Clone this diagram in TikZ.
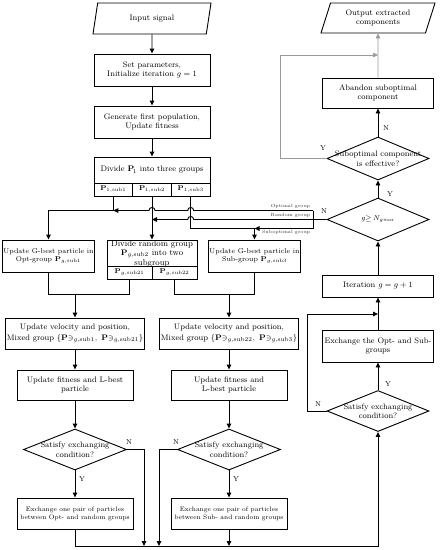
\documentclass[tikz,border=0pt]{standalone}
\usepackage{amsmath,amssymb}
\usetikzlibrary{positioning,arrows.meta,shapes.geometric,calc}

\begin{document}
\begin{tikzpicture}[x=1pt,y=-1pt,
  fbox/.style={rectangle,draw,line width=0.9pt,font=\footnotesize,align=center,
    inner sep=1pt,minimum width=116,minimum height=32},
  fpar/.style={trapezium,trapezium left angle=63,trapezium right angle=117,
    trapezium stretches body,draw,line width=0.9pt,font=\footnotesize,align=center,
    inner sep=1pt,minimum width=118,minimum height=31},
  fdia/.style={diamond,draw,line width=0.9pt,inner sep=0pt,minimum width=103,minimum height=41},
  ftxt/.style={font=\footnotesize,align=center,inner sep=0pt},
  fcell/.style={rectangle,draw,line width=0.9pt,inner sep=0pt,minimum height=13,font=\scriptsize},
  farr/.style={-{Triangle[length=5pt,width=4.5pt]},line width=0.9pt},
  fline/.style={line width=0.9pt},
  gline/.style={draw=gray!80,line width=0.6pt},
  flab/.style={font=\scriptsize,inner sep=0pt},
  glab/.style={font=\fontsize{4.5}{5}\selectfont,inner sep=0.5pt,text=black!80}
]
\useasboundingbox (0,0) rectangle (442,550);

% left column
\node[fpar] (in) at (152,18.5) {Input signal};
\node[fbox] (set) at (152,70) {Set parameters,\\Initialize iteration $g=1$};
\node[fbox] (gen) at (152,122) {Generate first population,\\Update fitness};
\node[fbox,minimum height=26] (div) at (152,170) {Divide $\mathbf{P}_{\!1}$ into three groups};
\node[fcell,minimum width=38.7] (c1) at (113.3,189.5) {$\mathbf{P}_{1,\mathrm{sub1}}$};
\node[fcell,minimum width=38.7] (c2) at (152,189.5) {$\mathbf{P}_{1,\mathrm{sub2}}$};
\node[fcell,minimum width=38.7] (c3) at (190.7,189.5) {$\mathbf{P}_{1,\mathrm{sub3}}$};

% second row
\node[fbox,font=\fontsize{7}{8.5}\selectfont,minimum width=91] (opt) at (48.5,256)
  {Update G-best particle in\\Opt-group $\mathbf{P}_{g,\mathrm{sub1}}$};
\node[fbox,minimum width=90,minimum height=26] (rnd) at (152,253) {};
\node[ftxt,font=\fontsize{8.5}{9.5}\selectfont] (rndt) at (152,253.5)
  {Divide random group\\$\mathbf{P}_{g,\mathrm{sub2}}$ into two\\subgroup};
\node[fcell,minimum width=45] (r1) at (129.5,272.5) {$\mathbf{P}_{g,\mathrm{sub21}}$};
\node[fcell,minimum width=45] (r2) at (174.5,272.5) {$\mathbf{P}_{g,\mathrm{sub22}}$};
\node[fbox,font=\fontsize{7}{8.5}\selectfont,minimum width=89] (sub) at (254.5,256)
  {Update G-best particle in\\Sub-group $\mathbf{P}_{g,\mathrm{sub3}}$};

% lower rows
\node[fbox,minimum height=31] (mixL) at (75,333.5)
  {Update velocity and position,\\[1pt]Mixed group $\{\mathbf{P}\mathord{\ni}_{g,\mathrm{sub1}},\ \mathbf{P}\mathord{\ni}_{g,\mathrm{sub21}}\}$};
\node[fbox,minimum height=31] (mixR) at (229,333.5)
  {Update velocity and position,\\[1pt]Mixed group $\{\mathbf{P}\mathord{\ni}_{g,\mathrm{sub22}},\ \mathbf{P}\mathord{\ni}_{g,\mathrm{sub3}}\}$};
\node[fbox,minimum height=30] (fitL) at (75,385) {Update fitness and L-best\\particle};
\node[fbox,minimum height=30] (fitR) at (229,385) {Update fitness and\\L-best particle};
\node[fdia] (dL) at (75,449.5) {};
\node[ftxt] (dLt) at (dL) {Satisfy exchanging\\condition?};
\node[fdia] (dR) at (229,449.5) {};
\node[ftxt] (dRt) at (dR) {Satisfy exchanging\\condition?};
\node[fbox,minimum height=31,font=\fontsize{6.5}{8}\selectfont] (exL) at (75,513.5)
  {Exchange one pair of particles\\between Opt- and random groups};
\node[fbox,minimum height=31,font=\fontsize{6.5}{8}\selectfont] (exR) at (229,513.5)
  {Exchange one pair of particles\\between Sub- and random groups};

% right column
\node[fpar,minimum width=114,minimum height=30] (out) at (378,18) {Output extracted\\components};
\node[fbox,minimum width=111,minimum height=30] (abd) at (378,93) {Abandon suboptimal\\component};
\node[fdia,minimum width=102,minimum height=43] (eff) at (378,158.5) {};
\node[ftxt] (efft) at (eff) {Suboptimal component\\is effective?};
\node[fdia,minimum width=102,minimum height=43] (gmx) at (378,219.5) {};
\node[ftxt,font=\scriptsize] (gmxt) at (gmx) {$g{\geq}\,N_{g\mathit{max}}$};
\node[fbox,minimum width=111,minimum height=22] (itr) at (378,286) {Iteration $g=g+1$};
\node[fbox,minimum width=111,minimum height=32] (exc) at (378,346) {Exchange the Opt- and Sub-\\groups};
\node[fdia,minimum width=102,minimum height=41] (dC) at (378,411) {};
\node[ftxt] (dCt) at (dC) {Satisfy exchanging\\condition?};

% junctions
\coordinate (bt) at (313,210.5);
\coordinate (bb) at (313,228.5);
\coordinate (mL) at (75,294);
\coordinate (mR) at (229,294);
\coordinate (nL) at (144,546);
\coordinate (nR) at (159,546);
\coordinate (bot) at (378,546);
\coordinate (jC) at (378,314);
\coordinate (jT) at (378,55);

% connectors
\draw[farr] (in) -- (set);
\draw[farr] (set) -- (gen);
\draw[farr] (gen) -- (div);
\draw[farr] (c1.south) |- (opt.north |- bt) -- (opt.north);
\draw[farr] (c2.south) -- (rnd.north);
\draw[farr] (c3.south) |- (sub.north |- bb) -- (sub.north);
\draw[fline] (bt) -- (bb);
\draw[farr] (bt) -- (193.7,210.5) .. controls (193.7,206.5) and (187.7,206.5) .. (187.7,210.5)
  -- (155,210.5) .. controls (155,206.5) and (149,206.5) .. (149,210.5) -- (c1.south |- bt);
\draw[farr] (gmx.west) -- (193.7,219.5) .. controls (193.7,215.5) and (187.7,215.5) .. (187.7,219.5)
  -- (c2.south |- gmx.west);
\draw[farr] (bb) -- (sub.north |- bb);
\draw[fline] (opt.south) |- (mL);
\draw[fline] (r1.south) |- (mL);
\draw[farr] (mL) -- (mixL.north);
\draw[fline] (r2.south) |- (mR);
\draw[fline] (sub.south) |- (mR);
\draw[farr] (mR) -- (mixR.north);
\draw[farr] (mixL) -- (fitL);
\draw[farr] (fitL) -- (dL);
\draw[farr] (dL) -- (exL);
\draw[farr] (mixR) -- (fitR);
\draw[farr] (fitR) -- (dR);
\draw[farr] (dR) -- (exR);
\draw[farr] (dL.east) -| (nL);
\draw[farr] (dR.west) -| (nR);
\draw[farr] (exR.south) -- (exR.south |- bot);
\draw[farr] (exL.south) |- (bot) -- (dC.south);
\draw[farr] (dC.north) -- (exc.south);
\draw[farr] (exc.north) -- (itr.south);
\draw[farr] (dC.west) -- ++(-19,0) |- (jC);
\draw[farr] (itr.north) -- (gmx.south);
\draw[farr] (gmx.north) -- (eff.south);
\draw[farr] (eff.north) -- (abd.south);
\draw[farr,gline] (abd.north) -- (out.south);
\draw[farr,gline] (eff.west) -- ++(-46,0) |- (jT);

% labels
\node[flab] (lNL) at (129,442) {N};
\node[flab] (lYL) at (82,479) {Y};
\node[flab] (lNR) at (176,442) {N};
\node[flab] (lYR) at (236,479) {Y};
\node[flab] (lNC) at (318,404) {N};
\node[flab] (lYC) at (388,384) {Y};
\node[flab] (lNG) at (324,211) {N};
\node[flab] (lYG) at (390,194) {Y};
\node[flab] (lYE) at (323,148) {Y};
\node[flab] (lNE) at (386,128) {N};
\node[glab,anchor=south east] (gO) at (311,209.5) {Optimal group};
\node[glab,anchor=south east] (gR) at (311,218.5) {Random group};
\node[glab,anchor=north east] (gS) at (311,229.5) {Suboptimal group};
\end{tikzpicture}
\end{document}
